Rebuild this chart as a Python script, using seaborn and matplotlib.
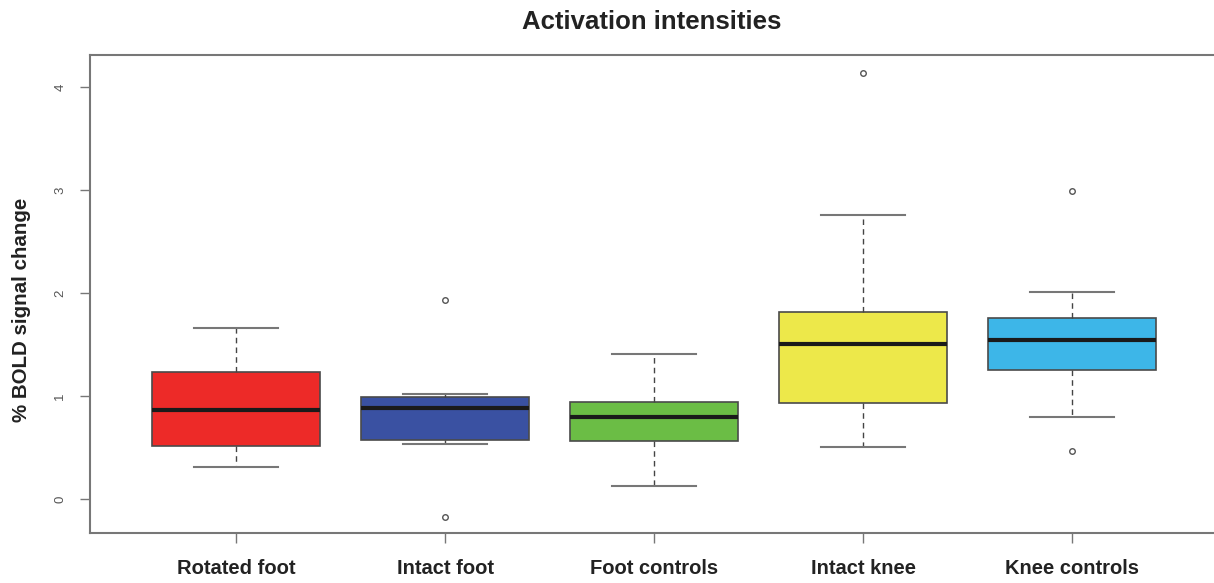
import numpy as np
import pandas as pd
import seaborn as sns
import matplotlib.pyplot as plt

plt.rcParams["font.family"] = ["Liberation Sans", "DejaVu Sans"]

# group names and colours
groups = ["Rotated foot", "Intact foot", "Foot controls", "Intact knee", "Knee controls"]
colors = ["#ED2A28", "#3A51A2", "#6BBD45", "#EDE84A", "#3DB6E8"]

# observations per group, picked so the box stats match the figure
rotated_foot = [0.31, 0.40, 0.51, 0.70, 0.86, 1.00, 1.23, 1.50, 1.66]
intact_foot = [-0.17, 0.53, 0.57, 0.70, 0.88, 0.95, 0.99, 1.02, 1.93]
foot_controls = [0.13, 0.35, 0.56, 0.70, 0.80, 0.88, 0.94, 1.20, 1.41]
intact_knee = [0.50, 0.70, 0.93, 1.20, 1.50, 1.65, 1.82, 2.76, 4.14]
knee_controls = [0.47, 0.80, 1.25, 1.40, 1.54, 1.65, 1.76, 2.01, 2.99]

values = [rotated_foot, intact_foot, foot_controls, intact_knee, knee_controls]
df = pd.DataFrame({
    "group": np.repeat(groups, [len(v) for v in values]),
    "signal": np.concatenate(values),
})

fig = plt.figure(figsize=(12.14, 5.83), dpi=100)
ax = fig.add_axes([90 / 1214, 1 - 533 / 583, 1130 / 1214, 478 / 583])

edge = "#4a4a4a"
sns.boxplot(data=df, x="group", y="signal", hue="group", palette=colors,
            order=groups, hue_order=groups, legend=False, width=0.8,
            saturation=1, whis=1.5, linecolor=edge, linewidth=1.2, ax=ax,
            medianprops=dict(color="#1a1a1a", linewidth=3),
            whiskerprops=dict(color="#444444", linestyle=(0, (4, 3)), linewidth=1),
            capprops=dict(color="#777777", linewidth=1.5),
            flierprops=dict(marker="o", markersize=4, markerfacecolor="none",
                            markeredgecolor="#555555", markeredgewidth=1))

ax.set_xlim(-0.699, 4.708)
ax.set_ylim(-0.33, 4.31)
ax.set_yticks([0, 1, 2, 3, 4])
ax.set_yticklabels(["0", "1", "2", "3", "4"], rotation=90, va="center",
                   color="#555555", fontsize=9.5)
ax.set_xticks(range(5))
ax.set_xticklabels(groups, fontsize=14.5, fontweight="bold", color="#222222")
ax.tick_params(axis="both", direction="out", length=7, color="#777777", width=1)
ax.tick_params(axis="x", pad=12)
ax.tick_params(axis="y", pad=10)

for side in ["left", "top", "bottom"]:
    ax.spines[side].set_color("#777777")
    ax.spines[side].set_linewidth(1.5)
ax.spines["right"].set_visible(False)

ax.set_xlabel("")
ax.set_ylabel("% BOLD signal change", fontsize=14.8, fontweight="bold",
              color="#222222")
ax.yaxis.set_label_coords(-0.052, 0.4665)
fig.text(652 / 1214, 1 - 22 / 583, "Activation intensities", ha="center",
         va="center", fontsize=18.5, fontweight="bold", color="#222222")

fig.savefig("out.png", dpi=100, facecolor="white")
